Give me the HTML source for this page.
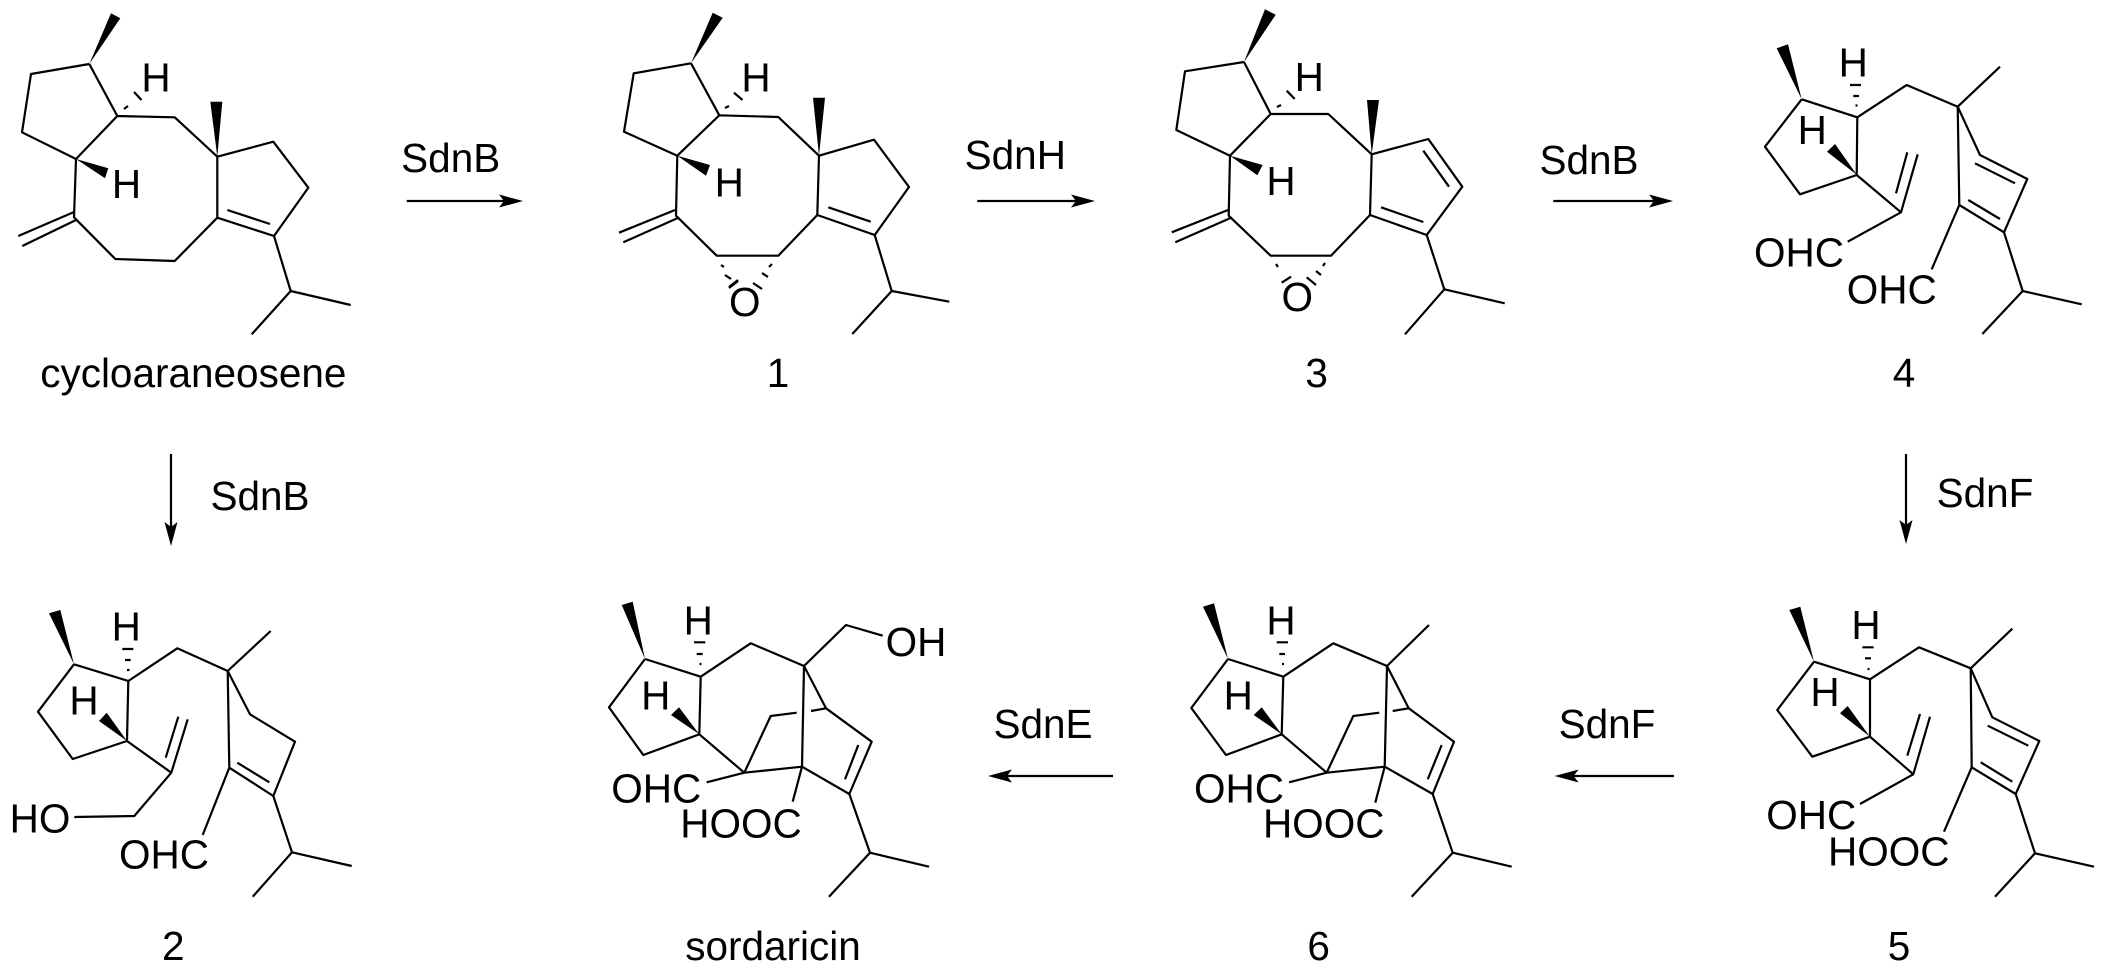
<!DOCTYPE html>
<html><head><meta charset="utf-8"><style>
html,body{margin:0;padding:0;background:#fff;width:2105px;height:980px;overflow:hidden}
svg{display:block}
text{font-family:"Liberation Sans",Arial,sans-serif;font-size:40.5px;fill:#000;text-anchor:middle}
path{fill:none;stroke:#000;stroke-width:2.2;stroke-linejoin:round;stroke-linecap:butt}
polygon{fill:#000;stroke:none}
</style></head><body>
<svg width="2105" height="980" viewBox="0 0 2105 980" xmlns="http://www.w3.org/2000/svg">
<!-- cycloaraneosene -->
<path d="M89.3 64L31 74L22 132.3L76 159L117.3 116L89.3 64M117.3 116L174.7 117.3L217.3 156.7L273.3 141.7L308.3 187.7L274 236L217.3 217.7L217.3 156.7M227.3 210L270 224M217.3 217.7L174.7 261L115.3 259L74 217.3L76 159M74 212L18.3 236M76 220L22.3 246M274 236L290.7 291L350.7 305M290.7 291L251.7 334.3M124 109L128 106M134 92L141.5 100"/>
<polygon points="89.3,64 111,13.3 120.3,18.3"/><polygon points="217.3,156.7 210.3,101.7 222.3,101.7"/><polygon points="76,159 108.3,168.3 105,178.3"/>
<text x="156" y="91.7">H</text><text x="126.5" y="198">H</text><text x="193.3" y="387">cycloaraneosene</text>
<!-- 1 -->
<path d="M691 63.3L633.7 73.3L624 131.7L677.3 155.7L719.3 115.3L691 63.3M719.3 115.3L778.3 117L819 155.7L874 139.7L909 187L874.7 235L817.3 215L819 155.7M828.3 207.3L870.7 221.7M817.3 215L778.3 255.7L716.7 255.7L676 215.7L677.3 155.7M675 210L619 232.7M677.3 218.3L623.3 242.3M874.7 235L891.7 291L949.3 301.7M891.7 291L852.3 334M734 92.7L742.5 100M725 108L729 106M721 265L724 267M725 275L731 279M729 287L738 280M729 288L738 281M772 264L769 267M762 273L768 277M753 283L762 289"/>
<polygon points="691,63.3 712.7,12.7 722.7,17.7"/><polygon points="819,155.7 813,97.7 825,97.7"/><polygon points="677.3,155.7 710,165 706,175.7"/>
<text x="756" y="91.7">H</text><text x="729.3" y="196.7">H</text><text x="744.7" y="316">O</text><text x="778" y="387">1</text>
<!-- 3 -->
<path d="M1244 62L1185 71.3L1176.3 130L1230 155.7L1270.7 114L1244 62M1270.7 114L1328.3 114L1371.7 154.3L1428.3 139L1462.3 186.7L1426.7 235L1370 215L1371.7 154.3M1381 207.3L1423.3 222M1423.3 150.7L1449 186.7M1370 215L1331 255.7L1270.7 255.7L1228.7 215.7L1230 155.7M1228 210L1171.7 232.3M1230 218.3L1175.3 242.3M1426.7 235L1444.3 289.3L1504.7 303.3M1444.3 289.3L1405 334.3M1286.7 90.7L1294.7 99M1277 107L1281 105M1276 264L1278 267M1281.7 282.7L1291 276.7M1325 263L1323 266M1316 271L1321 275M1306.7 277.3L1316 285"/>
<polygon points="1244,62 1265,9.3 1275.7,14.7"/><polygon points="1371.7,154.3 1367,100 1379,100"/><polygon points="1230,155.7 1262.7,165 1257.3,175.3"/>
<text x="1309.3" y="91">H</text><text x="1281" y="195">H</text><text x="1297.3" y="311">O</text><text x="1316.7" y="387">3</text>
<!-- 4 -->
<path d="M1801.7 99.3L1765 146.7L1800 194.3L1856.7 175L1857.3 117.3L1801.7 99.3M1857.3 117.3L1906.7 85L1957.7 106.7L2000 66.7M1957.7 106.7L1959.3 205M1957.7 106.7L1980 155L2027.3 179L2004 232.3L1959.3 205M1975 163.3L2015 183.3M1968.3 200L2000 219M2004 232.3L2022.7 291L2081.7 304.3M2022.7 291L1982.3 334M1856.7 175L1901 212.3L1917.7 154.3M1896 193.3L1907.3 152.3M1901 212.3L1847.7 241.7M1959.3 205L1931.7 269.3M1850 85H1861M1853.3 96H1859M1855.5 105.5H1857.5"/>
<polygon points="1801.7,99.3 1776.7,48.3 1788,44.3"/><polygon points="1857,175 1827,151.7 1835,144"/>
<text x="1812.3" y="144">H</text><text x="1853.3" y="76.7">H</text><text x="1799" y="266.7">OHC</text><text x="1891.7" y="303.3">OHC</text><text x="1904" y="387">4</text>
<!-- 2 -->
<path d="M74 664.3L38 711.7L72.7 759L127 741L128.3 681L74 664.3M128.3 681L177.3 648.3L227.7 671L270.7 631M227.7 671L229.3 767.7M227.7 671L250 714.3L295 741.7L273.3 796L229.3 767.7M237.3 762.7L269.3 782.3M273.3 796L292 852.3L351.7 866M292 852.3L252.7 896.7M127 741L171.3 772.7L187.7 719.3M165.7 757.7L178.3 716.7M171.3 772.7L134.3 816L74.3 817M229.3 767.7L202.7 835M122.3 649H133.3M125 660H130.7M127 670H129.5"/>
<polygon points="74,664.3 49,613.3 60.3,610"/><polygon points="127,741 99,721 106.7,712.7"/>
<text x="84" y="714.3">H</text><text x="126.3" y="640.7">H</text><text x="40" y="832.3">HO</text><text x="164" y="868.3">OHC</text><text x="173.3" y="960">2</text>
<!-- sordaricin -->
<path d="M645 659L609 707.3L643.3 755L699.3 734.3L700.7 676.7L645 659M700.7 676.7L750.7 643.3L804 666L846 625L882.7 635.7M804 666L802 766.7M804 666L826 708.3L871.7 741.7L849.3 794L802 766.7M845 779.3L858.3 745M699.3 734.3L744.3 772.7L802 766.7M744.3 772.7L770.7 716L796.7 712.7M811 711L826 708.3M744.3 772.7L706.7 782.3M802 766.7L792.7 801.7M849.3 794L870 852.7L929 866.7M870 852.7L829 896.7M694 642.3H705.3M696.7 654H702.7M699.5 664H701.5"/>
<polygon points="645,659 621.7,605 632.7,601.7"/><polygon points="699.3,734.3 671,715 679,707.3"/>
<text x="655.7" y="709.3">H</text><text x="698.3" y="634.3">H</text><text x="916" y="656">OH</text><text x="656.3" y="802.7">OHC</text><text x="741" y="837.3">HOOC</text><text x="773" y="960">sordaricin</text>
<!-- 6 -->
<path d="M1228 659L1191.3 708L1226 755L1281.7 734.3L1283.3 676.7L1228 659M1283.3 676.7L1333.3 643.3L1387 666L1429 625M1387 666L1384.7 766.7M1387 666L1408.7 708.3L1454 741.7L1432.7 794L1384.7 766.7M1427.7 779.3L1441.7 745M1281.7 734.3L1326.7 772.7L1384.7 766.7M1326.7 772.7L1353.3 716L1379.3 712.7M1392.7 711L1408.7 708.3M1326.7 772.7L1289 782.3M1384.7 766.7L1375.3 802.7M1432.7 794L1452.7 852.7L1511.7 866.7M1452.7 852.7L1411.7 896.7M1276.7 642.3H1288M1279.3 654H1285M1282 664H1284"/>
<polygon points="1228,659 1203,606.7 1214,603.3"/><polygon points="1281.7,734.3 1253.7,715 1261.7,707.3"/>
<text x="1238.3" y="709.3">H</text><text x="1281" y="634.3">H</text><text x="1239" y="802.7">OHC</text><text x="1323.7" y="837.3">HOOC</text><text x="1318.7" y="960">6</text>
<!-- 5 -->
<path d="M1814 661.7L1777.3 710L1812.3 756.7L1870 736.7L1870 679.3L1814 661.7M1870 679.3L1919 647.3L1970.7 668.3L2012.3 628.7M1970.7 668.3L1971.7 767.3M1970.7 668.3L1992.3 717.3L2039.3 741L2015.7 794L1971.7 767.3M1987.7 725.7L2028.3 745.7M1980.7 762.3L2012.3 781.7M2015.7 794L2035 853.3L2094 866.7M2035 853.3L1995 896.7M1870 736.7L1913.3 774.3L1930 716.7M1907.3 755.7L1920 714M1913.3 774.3L1860 804M1971.7 767.3L1944 831.7M1862.3 647.3H1873.7M1865 658.3H1871M1867.5 669H1869.5"/>
<polygon points="1814,661.7 1789.3,610 1800.3,606.7"/><polygon points="1870,736.7 1840,713.3 1847.7,706"/>
<text x="1825" y="706">H</text><text x="1866" y="639">H</text><text x="1811.3" y="829">OHC</text><text x="1888.8" y="865.7">HOOC</text><text x="1899" y="960">5</text>
<!-- arrows -->
<path d="M406.7 201H505M977.3 201H1078M1553.3 201H1655M171 454V530M1906 454V530M1674 776H1570M1113 776H1003"/>
<polygon points="523,201 499,194.5 504,201 499,207.5"/>
<polygon points="1095,201 1071,194.5 1076,201 1071,207.5"/>
<polygon points="1673,201 1649,194.5 1654,201 1649,207.5"/>
<polygon points="171,546 164.5,522 171,527 177.5,522"/>
<polygon points="1906,544 1899.5,520 1906,525 1912.5,520"/>
<polygon points="1554.6,776 1578.6,769.5 1573.6,776 1578.6,782.5"/>
<polygon points="988,776 1012,769.5 1007,776 1012,782.5"/>
<text x="450.7" y="172">SdnB</text><text x="1015.3" y="169">SdnH</text><text x="1589" y="174">SdnB</text>
<text x="260" y="510">SdnB</text><text x="1985" y="507">SdnF</text>
<text x="1607" y="738">SdnF</text><text x="1043" y="738">SdnE</text>
</svg>
</body></html>
